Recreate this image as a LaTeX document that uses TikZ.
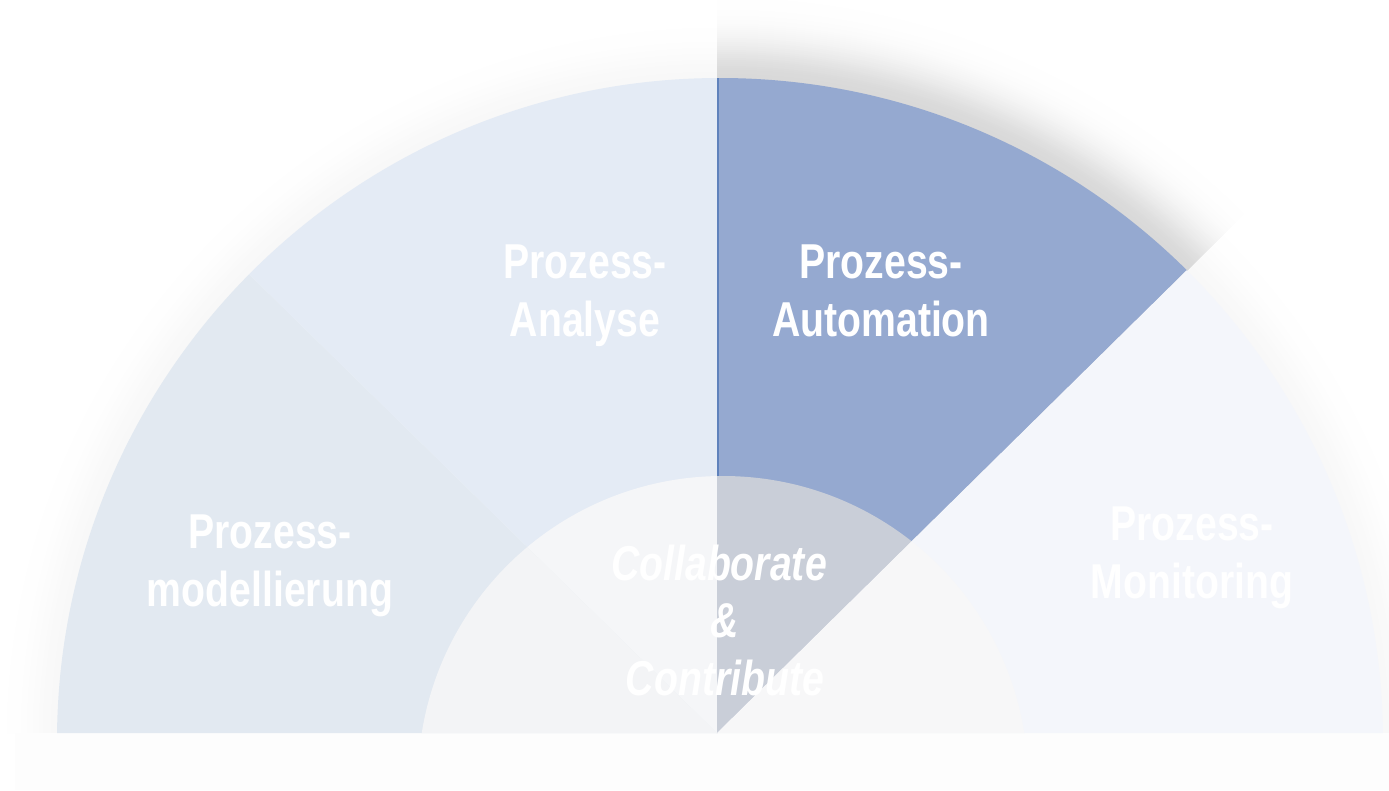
\documentclass[tikz,border=0pt]{standalone}
\usepackage{fontspec}
\setmainfont[FakeStretch=0.8]{Liberation Sans}
\definecolor{cAuto}{HTML}{95A9D0}
\definecolor{cAnal}{HTML}{E4EBF5}
\definecolor{cModel}{HTML}{E2E9F1}
\definecolor{cMoni}{HTML}{F4F6FB}
\definecolor{cInA}{HTML}{F5F6F8}
\definecolor{cInB}{HTML}{F3F4F6}
\definecolor{cInC}{HTML}{C9CED8}
\definecolor{cInD}{HTML}{F7F7F8}
\definecolor{cBand}{HTML}{FDFDFD}
\definecolor{cRule}{HTML}{5F82BC}
\tikzset{
  lab/.style={text=white,align=center,inner sep=0pt,anchor=base,
    font=\bfseries\fontsize{36.75pt}{43.5pt}\selectfont},
  labit/.style={lab,font=\bfseries\itshape\fontsize{36.75pt}{43pt}\selectfont},
}
\newcommand{\outerc}[1]{(720,741) circle [radius=#1*0.75pt]}
\newcommand{\innerc}{(723,781) circle [radius=305*0.75pt]}
\begin{document}
\begin{tikzpicture}[x=0.75pt,y=-0.75pt]
\useasboundingbox (0,0) rectangle (1389,790);
\fill[white] (0,0) rectangle (1389,790);
% light soft shadow, left side
\begin{scope}
  \clip (0,0) rectangle (717,733);
  \foreach \d in {60,58,...,0}{
    \pgfmathsetmacro{\p}{2.7*exp(-(\d/30)^2)}
    \pgfmathsetmacro{\r}{663+\d}
    \fill[black!\p!white] \outerc{\r};
  }
\end{scope}
% light soft shadow, below the diagonal
\begin{scope}
  \clip (717,733) -- (1389,71) -- (1389,733) -- cycle;
  \foreach \d in {60,58,...,0}{
    \pgfmathsetmacro{\p}{2.7*exp(-(\d/30)^2)}
    \pgfmathsetmacro{\r}{663+\d}
    \fill[black!\p!white] \outerc{\r};
  }
\end{scope}
% dark soft shadow behind the active sector
\begin{scope}
  \clip (717,733) -- (1389,71) -- (1389,0) -- (717,0) -- cycle;
  \foreach \d in {90,88,...,0}{
    \pgfmathsetmacro{\p}{15*exp(-(\d/38)^2)}
    \pgfmathsetmacro{\r}{663+\d}
    \fill[black!\p!white] \outerc{\r};
  }
\end{scope}
% band below the base line
\fill[cBand] (15,733) rectangle (1389,790);
% sectors
\begin{scope}
  \clip (0,0) rectangle (1389,733);
  \clip \outerc{663};
  \fill[cModel] (717,733) -- (0,733) -- (0,30) -- cycle;
  \fill[cAnal] (717,733) -- (0,30) -- (0,0) -- (717,0) -- cycle;
  \fill[cAuto] (717,733) -- (717,0) -- (1389,0) -- (1389,71) -- cycle;
  \fill[cMoni] (717,733) -- (1389,71) -- (1389,733) -- cycle;
\end{scope}
% rule between the two upper sectors
\fill[cRule] (717,78) rectangle (719,480);
% inner half disc
\begin{scope}
  \clip (0,0) rectangle (1389,733);
  \clip \innerc;
  \fill[cInB] (717,733) -- (0,733) -- (0,30) -- cycle;
  \fill[cInA] (717,733) -- (0,30) -- (0,0) -- (717,0) -- cycle;
  \fill[cInC] (717,733) -- (717,0) -- (1389,0) -- (1389,71) -- cycle;
  \fill[cInD] (717,733) -- (1389,71) -- (1389,733) -- cycle;
\end{scope}
% labels
\node[lab] (analyse) at (585,336) {Prozess-\\Analyse};
\node[lab] (automation) at (881,336) {Prozess-\\Automation};
\node[lab] (modell) at (270,606) {Prozess-\\modellierung};
\node[lab] (monitoring) at (1192,598) {Prozess-\\Monitoring};
\node[labit] (centre) at (719,695) {Collaborate\\\hspace*{9pt}\&\\\hspace*{9pt}Contribute};
\end{tikzpicture}
\end{document}
